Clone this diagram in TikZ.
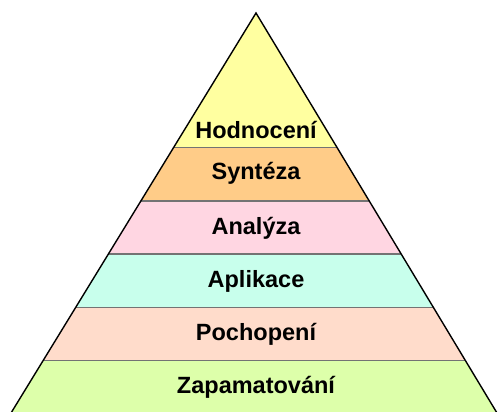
\documentclass[tikz,border=0pt]{standalone}
\usepackage{fontspec}
\setmainfont{Liberation Sans}
\usetikzlibrary{calc}
\definecolor{cA}{HTML}{FFFFA0}
\definecolor{cB}{HTML}{FFCC88}
\definecolor{cC}{HTML}{FFD6E2}
\definecolor{cD}{HTML}{C8FFEC}
\definecolor{cE}{HTML}{FFDCCB}
\definecolor{cF}{HTML}{DDFFAA}
\begin{document}
\begin{tikzpicture}[x=1pt,y=-1pt,
  lbl/.style={font=\fontsize{23.5}{25}\selectfont\bfseries, text=black, inner sep=0pt},
  sep/.style={draw=black!55, line width=1.2pt}]
\useasboundingbox (0,0) rectangle (498,412);
% apex and base
\coordinate (T) at (256,13);
\coordinate (BL) at (10.4,414);
\coordinate (BR) at (497.6,414);
% boundary points
\foreach \n/\y in {1/147.5,2/201,3/254,4/307.5,5/360.5}{
  \coordinate (L\n) at ($(T)!{(\y-13)/401}!(BL)$);
  \coordinate (R\n) at ($(T)!{(\y-13)/401}!(BR)$);
}
\fill[cA] (T) -- (R1) -- (L1) -- cycle;
\fill[cB] (L1) -- (R1) -- (R2) -- (L2) -- cycle;
\fill[cC] (L2) -- (R2) -- (R3) -- (L3) -- cycle;
\fill[cD] (L3) -- (R3) -- (R4) -- (L4) -- cycle;
\fill[cE] (L4) -- (R4) -- (R5) -- (L5) -- cycle;
\fill[cF] (L5) -- (R5) -- (BR) -- (BL) -- cycle;
\foreach \n in {1,...,5}{ \draw[sep] (L\n) -- (R\n); }
\draw[black, line width=1.4pt, line join=miter] (BL) -- (T) -- (BR);
\node[lbl] (hod) at (256,130) {Hodnocení};
\node[lbl] (syn) at (256,173) {Syntéza};
\node[lbl] (ana) at (256,228) {Analýza};
\node[lbl] (apl) at (256,281) {Aplikace};
\node[lbl] (poc) at (256,334) {Pochopení};
\node[lbl] (zap) at (256,387) {Zapamatování};
\end{tikzpicture}
\end{document}
